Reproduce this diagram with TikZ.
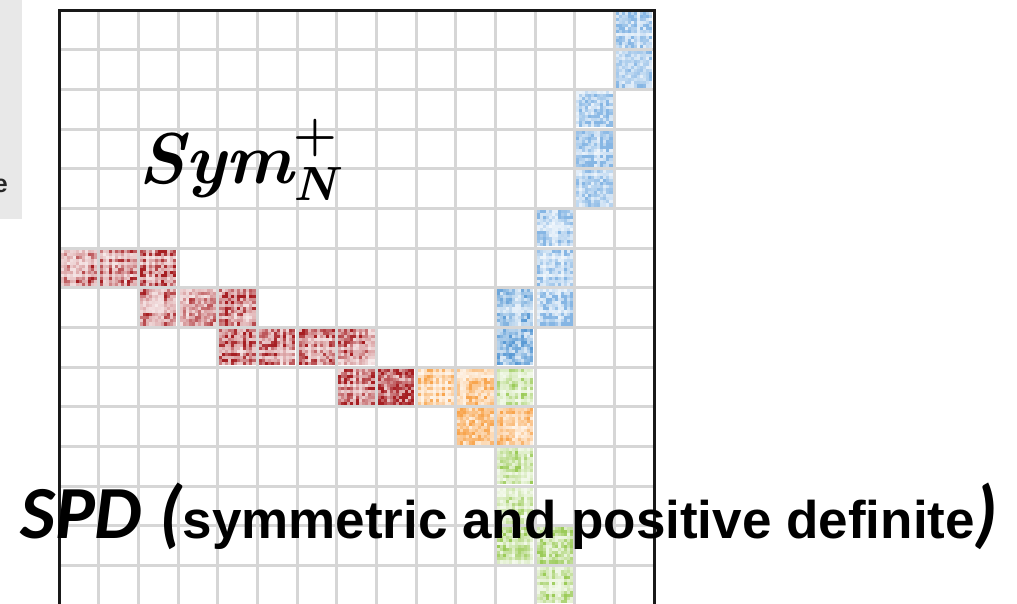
\documentclass[tikz,border=0pt]{standalone}
\usepackage{fontspec}
\newfontfamily\calibrifont{Carlito}
\newfontfamily\arialfont{Liberation Sans}

\definecolor{gridgray}{HTML}{D6D6D6}
\definecolor{panelgray}{HTML}{E8E8E8}
\definecolor{hmred}{HTML}{A61E22}
\definecolor{hmblue}{HTML}{5B9BD5}
\definecolor{hmlightblue}{HTML}{86B6E4}
\definecolor{hmorange}{HTML}{F8A54E}
\definecolor{hmgreen}{HTML}{9BCB58}

% One symmetric heat-map tile filling the grid cell (col, row):
% every index gets a weight, a sub-cell takes the product of its two weights
\newcommand\heatblock[3]{%
  \pgfmathsetmacro\bx{59+#1*39.667+1.8}%
  \pgfmathsetmacro\by{10+#2*39.667+1.8}%
  \foreach \i in {0,...,11}{%
    \pgfmathsetmacro\wt{rnd<0.15 ? 0.3 : 0.6+0.4*rnd}%
    \expandafter\xdef\csname hw\i\endcsname{\wt}%
  }%
  \foreach \i in {0,...,11}{%
    \foreach \j in {\i,...,11}{%
      \edef\wi{\csname hw\i\endcsname}\edef\wj{\csname hw\j\endcsname}%
      \pgfmathsetmacro\pc{int(min(100,8+150*\wi*\wj*(0.15+0.85*rnd)))}%
      \fill[#3!\pc] (\bx+\i*3,\by+\j*3) rectangle ++(3.05,3.05);
      \fill[#3!\pc] (\bx+\j*3,\by+\i*3) rectangle ++(3.05,3.05);
    }%
  }%
}

\begin{document}
\begin{tikzpicture}[x=1pt,y=-1pt,
  gridline/.style={gridgray,line width=3pt},
  frameline/.style={black!90,line width=3pt}]
\useasboundingbox (0,0) rectangle (1017,603);
\clip (0,0) rectangle (1017,603);
\fill[white] (0,0) rectangle (1017,603);

% side panel with the tail of its caption
\fill[panelgray] (0,0) rectangle (22,219);
\node[anchor=base east,inner sep=0,text=black!85,
      font=\arialfont\bfseries\fontsize{25}{28}\selectfont] (paneltxt) at (8,192) {e};

% matrix grid
\foreach \k in {1,...,14}{
  \draw[gridline] (59+\k*39.667,10) -- (59+\k*39.667,606);
  \draw[gridline] (59,10+\k*39.667) -- (655,10+\k*39.667);
}

% heat-map tiles
\pgfmathsetseed{4217}
\foreach \c/\r in {14/0,14/1,13/2,13/3,13/4,12/5,12/6,12/7}{\heatblock{\c}{\r}{hmlightblue}}
\foreach \c/\r in {11/7,11/8}{\heatblock{\c}{\r}{hmblue}}
\foreach \c/\r in {0/6,1/6,2/6,2/7,3/7,4/7,4/8,5/8,6/8,7/8,7/9,8/9}{\heatblock{\c}{\r}{hmred}}
\foreach \c/\r in {9/9,10/9,10/10,11/10}{\heatblock{\c}{\r}{hmorange}}
\foreach \c/\r in {11/9,11/11,11/12,11/13,12/13,12/14}{\heatblock{\c}{\r}{hmgreen}}

% frame
\draw[frameline] (59,606) -- (59,10) -- (654,10) -- (654,606);

% labels
\node[anchor=base west,inner sep=0,
      font=\fontsize{72}{80}\selectfont\bfseries\itshape] (symlbl) at (138,183)
      {Sym\rlap{\raisebox{33pt}{\fontsize{50}{50}\selectfont\upshape +}}%
       \raisebox{-17pt}{\fontsize{48}{48}\selectfont N}};
\node[anchor=base west,inner sep=0] (spdlbl) at (20,538)
  {\calibrifont\bfseries\itshape\fontsize{75}{78}\selectfont SPD (%
   \arialfont\upshape\fontsize{53}{56}\selectfont symmetric and positive definite%
   \calibrifont\itshape\fontsize{75}{78}\selectfont)};
\end{tikzpicture}
\end{document}
